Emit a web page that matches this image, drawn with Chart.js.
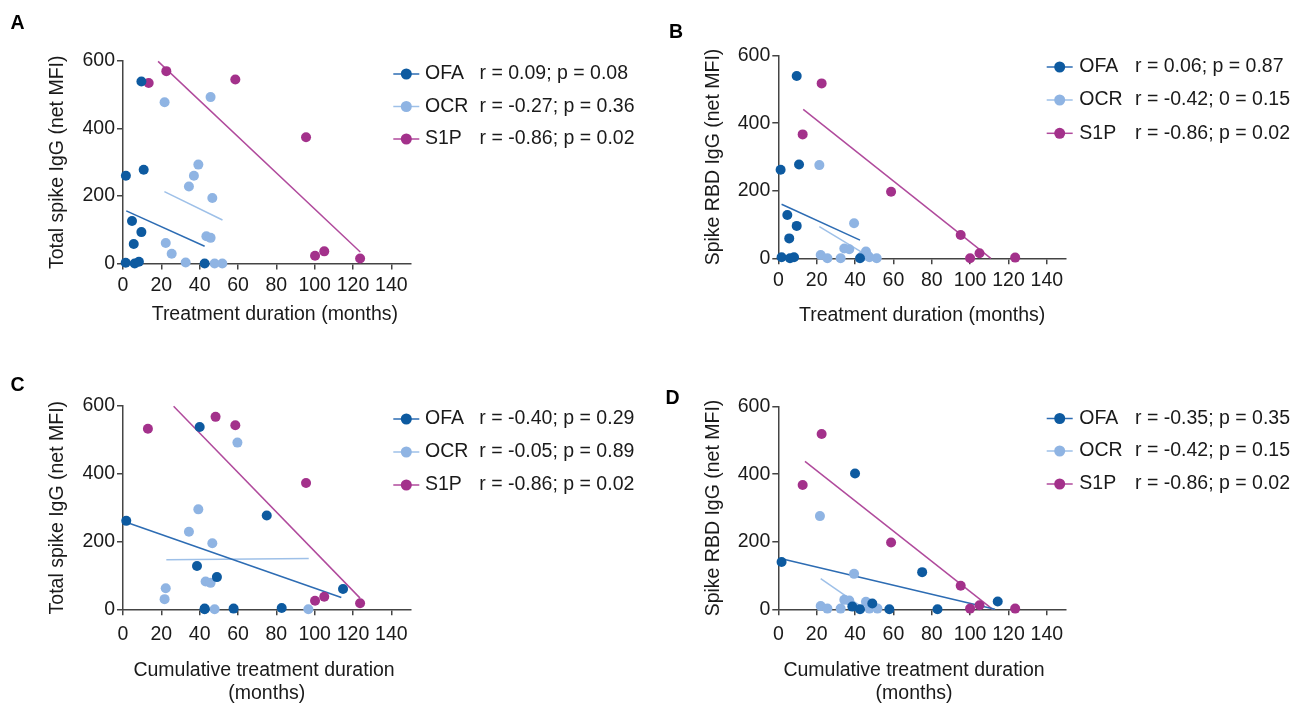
<!DOCTYPE html>
<html><head><meta charset="utf-8">
<script src="https://cdn.jsdelivr.net/npm/chart.js@4/dist/chart.umd.min.js"></script>
<style>
html,body{margin:0;padding:0;background:#fff;overflow:hidden;width:1302px;height:705px;position:relative}
canvas{position:absolute}
</style></head><body>
<canvas id="cA"></canvas><canvas id="cB"></canvas><canvas id="cC"></canvas><canvas id="cD"></canvas>
<script>
// ---------- DATA ----------
const seriesNames = ['OFA', 'OCR', 'S1P'];
const xTickValues = [0, 20, 40, 60, 80, 100, 120, 140];
const yTickValues = [0, 200, 400, 600];

// Panel A: treatment duration vs total spike IgG
const A_OFA_x = [1.5, 10.8, 9.6, 4.7, 9.6, 5.6, 1.4, 6.1, 8.3, 42.6];
const A_OFA_y = [260, 278, 539, 126, 93, 58, 2, 0, 5, 0];
const A_OCR_x = [21.7, 45.7, 39.3, 37.0, 34.4, 46.6, 22.3, 25.4, 32.7, 43.5, 45.7, 47.8, 51.8];
const A_OCR_y = [478, 493, 293, 260, 228, 194, 61, 29, 3, 81, 76, 0, 0];
const A_S1P_x = [13.4, 22.6, 58.6, 95.5, 100.2, 105.0, 123.7];
const A_S1P_y = [535, 570, 545, 374, 23, 36, 15];
const A_fit_OFA = [[1.7, 156], [42.6, 51]];
const A_fit_OCR = [[21.6, 213], [51.9, 129]];
const A_fit_S1P = [[18.3, 599], [123.8, 34]];
const A_stats = ['r = 0.09; p = 0.08', 'r = -0.27; p = 0.36', 'r = -0.86; p = 0.02'];

// Panel B: treatment duration vs spike RBD IgG
const B_OFA_x = [1.2, 10.8, 9.6, 4.7, 9.6, 5.7, 1.7, 6.1, 8.2, 42.6];
const B_OFA_y = [262, 278, 540, 128, 96, 59, 3, 0, 3, 0];
const B_OCR_x = [21.4, 39.5, 22.1, 25.6, 32.5, 34.4, 37.0, 45.7, 47.5, 51.3, 43.5, 46.6, 45.7];
const B_OCR_y = [276, 104, 10, 0, 0, 29, 27, 20, 3, 0, 5, 8, 10];
const B_S1P_x = [12.7, 22.6, 58.8, 95.1, 100.0, 104.9, 123.5];
const B_S1P_y = [367, 518, 197, 69, 0, 15, 2];
const B_fit_OFA = [[1.7, 160], [42.6, 54]];
const B_fit_OCR = [[21.4, 94], [48, 3]];
const B_fit_S1P = [[13.0, 441], [110.8, 0]];
const B_stats = ['r = 0.06; p = 0.87', 'r = -0.42; 0 = 0.15', 'r = -0.86; p = 0.02'];

// Panel C: cumulative treatment duration vs total spike IgG
const C_OFA_x = [1.7, 40.0, 75.0, 38.6, 49.0, 114.8, 42.6, 57.7, 82.8, 42.6];
const C_OFA_y = [261, 538, 277, 128, 95, 60, 2, 2, 4, 0];
const C_OCR_x = [59.7, 39.3, 34.4, 46.6, 22.3, 21.7, 43.1, 45.7, 47.8, 96.7];
const C_OCR_y = [492, 295, 229, 195, 62, 30, 82, 78, 0, 0];
const C_S1P_x = [13.0, 48.3, 58.6, 95.5, 100.2, 105.0, 123.7];
const C_S1P_y = [533, 568, 543, 373, 25, 37, 18];
const C_fit_OFA = [[1.7, 257], [113.9, 35]];
const C_fit_OCR = [[22.6, 146], [96.9, 150]];
const C_fit_S1P = [[26.4, 599], [123.7, 33]];
const C_stats = ['r = -0.40; p = 0.29', 'r = -0.05; p = 0.89', 'r = -0.86; p = 0.02'];

// Panel D: cumulative treatment duration vs spike RBD IgG
const D_OFA_x = [1.7, 40.0, 75.0, 114.4, 38.6, 42.6, 49.0, 57.9, 83.0];
const D_OFA_y = [140, 402, 110, 23, 8, 0, 17, 0, 0];
const D_OCR_x = [21.7, 39.5, 22.1, 25.6, 32.5, 34.4, 37.0, 45.7, 47.5, 51.7];
const D_OCR_y = [276, 105, 10, 2, 2, 28, 26, 22, 2, 2];
const D_S1P_x = [12.7, 22.6, 58.8, 95.1, 100.0, 104.9, 123.5];
const D_S1P_y = [368, 519, 198, 70, 2, 12, 2];
const D_fit_OFA = [[1.7, 150], [113, 0]];
const D_fit_OCR = [[22.1, 91], [44, 5]];
const D_fit_S1P = [[13.9, 438], [111.8, 0]];
const D_stats = ['r = -0.35; p = 0.35', 'r = -0.42; p = 0.15', 'r = -0.86; p = 0.02'];

// ---------- STYLE ----------
const FONT = "'Liberation Sans', Arial, Helvetica, sans-serif";
const FS = 19.5, LH = 1.2;
const PT_COL = ['#0d5aa0', '#8fb4e3', '#a3318b'];
const LN_COL = ['#2d6cb3', '#9ec0e8', '#b04a9c'];
const AX_COL = '#444';
const TXT_COL = '#1a1a1a';

function pts(xs, ys) { return xs.map((x, i) => ({x: x, y: ys[i]})); }
function fitPts(f) { return f.map(p => ({x: p[0], y: p[1]})); }

function makePanel(cfg) {
  const canvas = document.getElementById(cfg.id);
  canvas.style.left = cfg.cx + 'px';
  canvas.style.top = cfg.cy + 'px';
  canvas.width = cfg.cw; canvas.height = cfg.ch;
  const lh = FS * LH;
  const padL = cfg.yTitleX - cfg.cx - lh / 2;
  const Wy = cfg.L - cfg.cx - padL;
  const nLines = cfg.xTitle.length;
  const axisBottom = cfg.xTitleY + lh / 2 + lh * (nLines - 1);
  const Hx = axisBottom - cfg.B;
  const padB = cfg.cy + cfg.ch - axisBottom;
  const padT = cfg.T - cfg.cy;
  const padR = cfg.cx + cfg.cw - cfg.R;

  const datasets = [];
  cfg.series.forEach((s, i) => {
    datasets.push({
      label: seriesNames[i], data: pts(s[0], s[1]),
      backgroundColor: PT_COL[i], borderWidth: 0, pointRadius: 5, pointHoverRadius: 5,
      showLine: false, clip: false, order: 1
    });
  });
  cfg.fits.forEach((f, i) => {
    datasets.push({
      label: seriesNames[i] + ' fit', data: fitPts(f),
      borderColor: LN_COL[i], borderWidth: 1.5, pointRadius: 0, showLine: true,
      fill: false, clip: false, order: 2
    });
  });

  const decor = {
    id: 'decor' + cfg.id,
    afterDraw(chart) {
      const ctx = chart.ctx;
      ctx.save();
      ctx.textBaseline = 'middle';
      ctx.textAlign = 'center';
      ctx.fillStyle = '#000';
      ctx.font = 'bold ' + FS + 'px ' + FONT;
      ctx.fillText(cfg.letter, cfg.letterX - cfg.cx, cfg.letterY - cfg.cy);
      ctx.textAlign = 'left';
      for (let i = 0; i < 3; i++) {
        const y = cfg.legY[i] - cfg.cy;
        const x0 = cfg.legX - cfg.cx;
        ctx.strokeStyle = LN_COL[i]; ctx.lineWidth = 1.5;
        ctx.beginPath(); ctx.moveTo(x0, y); ctx.lineTo(x0 + 26, y); ctx.stroke();
        ctx.fillStyle = PT_COL[i];
        ctx.beginPath(); ctx.arc(x0 + 13, y, 5.5, 0, Math.PI * 2); ctx.fill();
        ctx.fillStyle = TXT_COL;
        ctx.font = FS + 'px ' + FONT;
        ctx.fillText(seriesNames[i], cfg.nameX - cfg.cx, y);
        ctx.fillText(cfg.stats[i], cfg.statX - cfg.cx, y);
      }
      ctx.restore();
    }
  };

  new Chart(canvas, {
    type: 'scatter',
    data: {datasets: datasets},
    options: {
      responsive: false, animation: false, devicePixelRatio: 1,
      layout: {padding: {left: padL, right: padR, top: padT, bottom: padB}},
      plugins: {legend: {display: false}, tooltip: {enabled: false}},
      scales: {
        x: {
          type: 'linear', min: 0, max: 150,
          afterBuildTicks: (s) => { s.ticks = xTickValues.map(v => ({value: v})); },
          afterFit: (s) => { s.height = Hx; },
          ticks: {autoSkip: false, maxRotation: 0, padding: cfg.xTickPad, color: TXT_COL,
                  font: {family: FONT, size: FS, lineHeight: LH}},
          grid: {drawOnChartArea: false, drawTicks: true, tickLength: 6, color: AX_COL, lineWidth: 1.5},
          border: {display: true, color: AX_COL, width: 1.5},
          title: {display: true, text: cfg.xTitle, color: TXT_COL, padding: 0,
                  font: {family: FONT, size: FS, lineHeight: LH}}
        },
        y: {
          type: 'linear', min: 0, max: 600,
          afterBuildTicks: (s) => { s.ticks = yTickValues.map(v => ({value: v})); },
          afterFit: (s) => { s.width = Wy; },
          ticks: {autoSkip: false, padding: 2, color: TXT_COL,
                  font: {family: FONT, size: FS, lineHeight: LH}},
          grid: {drawOnChartArea: false, drawTicks: true, tickLength: 6, color: AX_COL, lineWidth: 1.5},
          border: {display: true, color: AX_COL, width: 1.5},
          title: {display: true, text: cfg.yTitle, color: TXT_COL, padding: 0,
                  font: {family: FONT, size: FS, lineHeight: LH}}
        }
      }
    },
    plugins: [decor]
  });
}

makePanel({id: 'cA', cx: 0, cy: 0, cw: 651, ch: 352, L: 123, R: 410.5, T: 61, B: 263.5,
  yTitleX: 57.7, yTitle: 'Total spike IgG (net MFI)', xTitle: ['   Treatment duration (months)'], xTitleY: 315, xTickPad: 4.8,
  letter: 'A', letterX: 17.5, letterY: 23.7, legX: 393.3, nameX: 425, statX: 479.5, legY: [74, 106.5, 139],
  series: [[A_OFA_x, A_OFA_y], [A_OCR_x, A_OCR_y], [A_S1P_x, A_S1P_y]],
  fits: [A_fit_OFA, A_fit_OCR, A_fit_S1P], stats: A_stats});

makePanel({id: 'cB', cx: 651, cy: 0, cw: 651, ch: 352, L: 778.3, R: 1066, T: 55.7, B: 258.3,
  yTitleX: 713.3, yTitle: 'Spike RBD IgG (net MFI)', xTitle: ['Treatment duration (months)'], xTitleY: 316, xTickPad: 4.8,
  letter: 'B', letterX: 676, letterY: 32.5, legX: 1046.7, nameX: 1079.3, statX: 1135, legY: [67, 100, 133.3],
  series: [[B_OFA_x, B_OFA_y], [B_OCR_x, B_OCR_y], [B_S1P_x, B_S1P_y]],
  fits: [B_fit_OFA, B_fit_OCR, B_fit_S1P], stats: B_stats});

makePanel({id: 'cC', cx: 0, cy: 352, cw: 651, ch: 360, L: 123, R: 410.5, T: 406, B: 609.3,
  yTitleX: 57.7, yTitle: 'Total spike IgG (net MFI)', xTitle: ['Cumulative treatment duration ', '(months)'], xTitleY: 670.7, xTickPad: 7.2,
  letter: 'C', letterX: 17.5, letterY: 385.5, legX: 393.3, nameX: 425, statX: 479.3, legY: [419, 452, 485],
  series: [[C_OFA_x, C_OFA_y], [C_OCR_x, C_OCR_y], [C_S1P_x, C_S1P_y]],
  fits: [C_fit_OFA, C_fit_OCR, C_fit_S1P], stats: C_stats});

makePanel({id: 'cD', cx: 651, cy: 352, cw: 651, ch: 360, L: 778.3, R: 1066, T: 406.7, B: 609.3,
  yTitleX: 713.3, yTitle: 'Spike RBD IgG (net MFI)', xTitle: ['Cumulative treatment duration   ', '(months)   '], xTitleY: 670.7, xTickPad: 7.2,
  letter: 'D', letterX: 672.5, letterY: 399, legX: 1046.7, nameX: 1079.3, statX: 1135, legY: [418.5, 451, 484],
  series: [[D_OFA_x, D_OFA_y], [D_OCR_x, D_OCR_y], [D_S1P_x, D_S1P_y]],
  fits: [D_fit_OFA, D_fit_OCR, D_fit_S1P], stats: D_stats});
</script>
</body></html>
